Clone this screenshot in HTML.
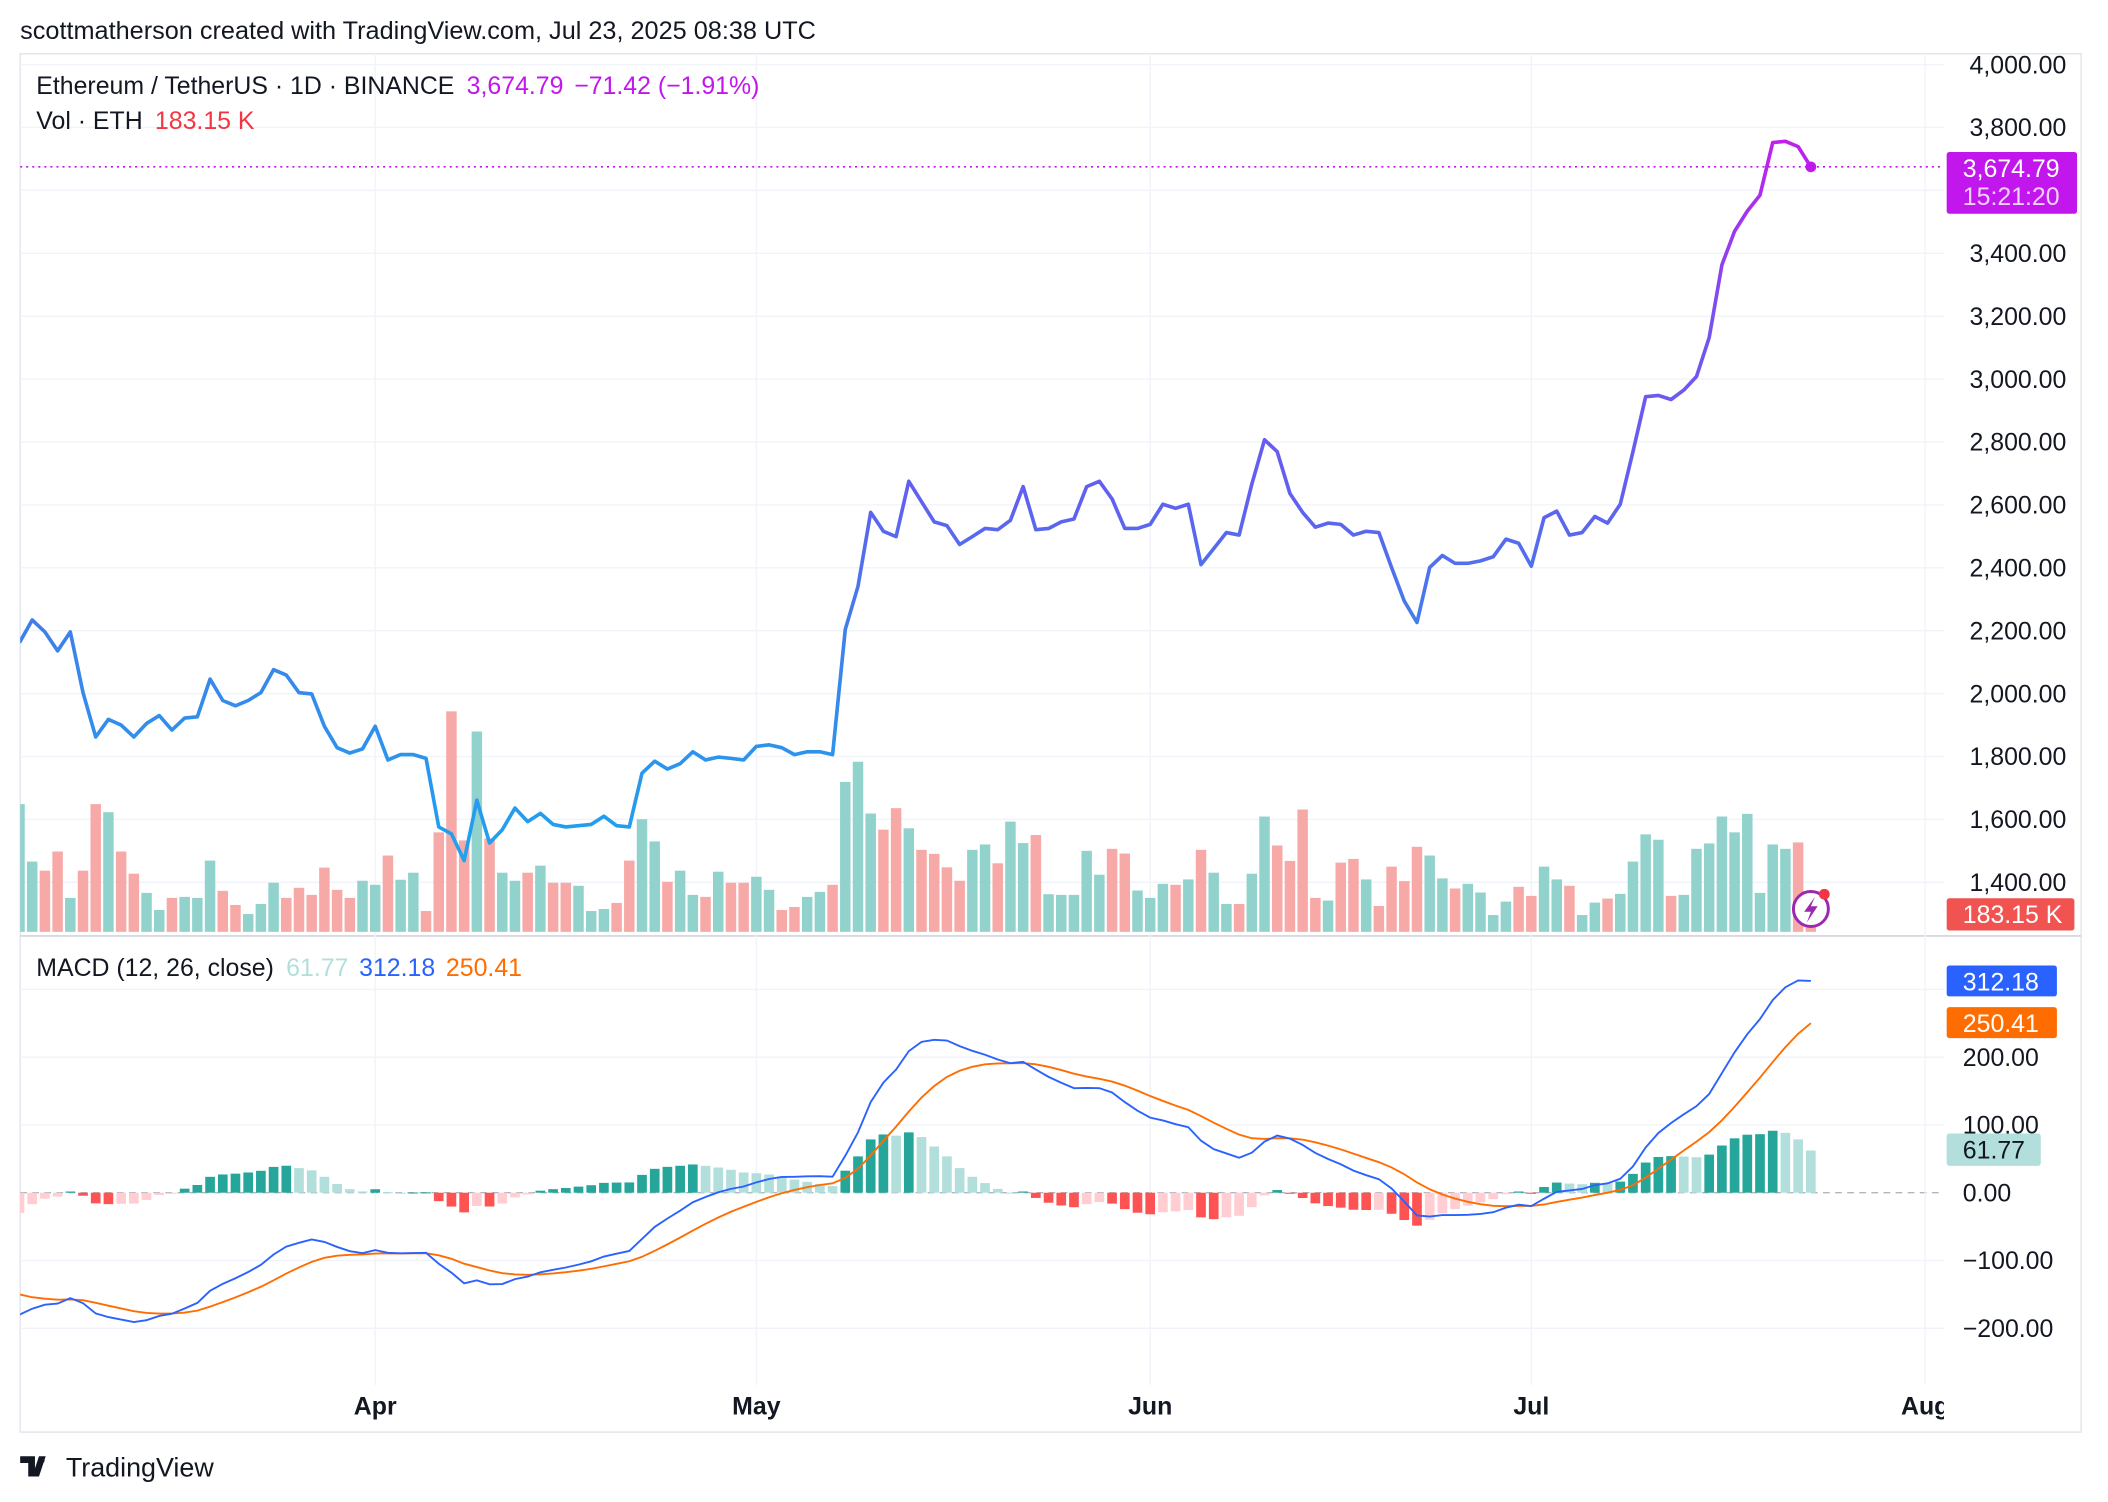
<!DOCTYPE html>
<html><head><meta charset="utf-8"><style>
html,body{margin:0;padding:0;background:#fff;}
svg{display:block;font-family:"Liberation Sans",sans-serif;}
</style></head><body>
<svg id="chart" xmlns="http://www.w3.org/2000/svg" width="2108" height="1502" viewBox="0 0 1568 1117" preserveAspectRatio="none">
<defs>
<linearGradient id="priceGrad" gradientUnits="userSpaceOnUse" x1="0" y1="640" x2="0" y2="100">
<stop offset="0" stop-color="#1ea3ef"/>
<stop offset="0.3" stop-color="#3d82ea"/>
<stop offset="0.5" stop-color="#6160f0"/>
<stop offset="0.72" stop-color="#7355f0"/>
<stop offset="1" stop-color="#c41ded"/>
</linearGradient>
<clipPath id="plotClip"><rect x="15" y="40" width="1431" height="990"/></clipPath>
<clipPath id="axisClip"><rect x="0" y="1030" width="1446" height="40"/></clipPath>
</defs>
<text x="15" y="29" font-size="18.8" fill="#131722">scottmatherson created with TradingView.com, Jul 23, 2025 08:38 UTC</text>
<rect x="15" y="40" width="1533" height="1025" fill="none" stroke="#e0e3eb" stroke-width="1"/>
<line x1="15" y1="696" x2="1548" y2="696" stroke="#d1d4dc" stroke-width="1.2"/>
<g id="grid"></g>
<g id="volume" clip-path="url(#plotClip)"></g>
<g id="price" clip-path="url(#plotClip)"></g>
<g id="macd" clip-path="url(#plotClip)"></g>
<g id="axes"></g>
<text x="27" y="70" font-size="18.5" fill="#131722">Ethereum / TetherUS · 1D · BINANCE <tspan fill="#c117ed" dx="4">3,674.79</tspan><tspan fill="#c117ed" dx="8">−71.42 (−1.91%)</tspan></text>
<text x="27" y="96" font-size="18.5" fill="#131722">Vol · ETH <tspan fill="#f23645" dx="4">183.15 K</tspan></text>
<text x="27" y="726" font-size="18.5" fill="#131722">MACD (12, 26, close) <tspan fill="#b2dfdb" dx="4">61.77</tspan><tspan fill="#2962ff" dx="8">312.18</tspan><tspan fill="#ff6d00" dx="8">250.41</tspan></text>
<g><circle cx="1347" cy="676" r="13" fill="#fff" stroke="#9c27b0" stroke-width="2.2"/><path d="M1350 667 L1342 678 L1347 678 L1344 686 L1352 674 L1347 674 Z" fill="#9c27b0"/><circle cx="1357" cy="665" r="4" fill="#f23645"/></g>
<g><path d="M15 1083 h11 v15 h-5 v-10 h-6 z M29 1083 h5 l-5 15 h-5 z" fill="#131722"/><circle cx="31" cy="1086" r="2.2" fill="#131722"/><text x="49" y="1098" font-size="20" fill="#131722">TradingView</text></g>
</svg>
<script>
const prices=[2162,2234,2196,2136,2196,2003,1862,1918,1900,1862,1905,1930,1884,1922,1926,2046,1978,1961,1978,2003,2076,2059,2003,1999,1896,1828,1811,1824,1896,1789,1806,1806,1794,1576,1554,1469,1661,1525,1567,1636,1593,1619,1584,1576,1580,1584,1610,1580,1576,1747,1785,1760,1777,1815,1789,1798,1794,1789,1832,1837,1828,1806,1815,1815,1806,2204,2341,2576,2516,2499,2675,2610,2546,2534,2474,2499,2525,2521,2551,2658,2521,2525,2546,2555,2658,2675,2619,2525,2525,2538,2602,2589,2602,2410,2461,2512,2504,2666,2807,2769,2636,2576,2529,2542,2538,2504,2516,2512,2401,2294,2226,2401,2439,2414,2414,2422,2435,2491,2478,2405,2559,2580,2504,2512,2563,2542,2602,2769,2944,2948,2935,2965,3008,3132,3363,3470,3534,3585,3752,3756,3739,3674.79];
const volumes=[380,209,182,239,101,182,380,356,239,173,116,65,101,104,101,212,122,80,53,83,146,101,131,110,191,125,101,152,140,227,155,176,62,296,656,272,596,278,176,152,176,197,146,146,137,62,68,86,212,335,269,149,182,110,104,179,146,146,164,125,65,74,104,119,140,446,506,352,304,368,308,244,232,192,152,244,260,204,328,264,288,112,110,110,241,170,247,233,123,101,143,140,156,244,176,83,83,173,343,257,211,364,101,93,206,217,156,77,194,151,253,227,159,129,143,117,50,90,134,107,194,156,137,50,87,99,113,209,290,274,107,110,247,263,343,296,351,116,260,247,266,20];
const priceTicks=[4000,3800,3600,3400,3200,3000,2800,2600,2400,2200,2000,1800,1600,1400];
const priceTickLabels=["4,000.00","3,800.00","3,600.00","3,400.00","3,200.00","3,000.00","2,800.00","2,600.00","2,400.00","2,200.00","2,000.00","1,800.00","1,600.00","1,400.00"];
const macdTicks=[300,200,100,0,-100,-200];
const macdTickLabels=["","200.00","100.00","0.00","−100.00","−200.00"];
const monthLabels=["Apr","May","Jun","Jul","Aug"];
const monthDays=[28,58,89,119,150];
const emaSeeds=[2290,2470,-150];

const NS="http://www.w3.org/2000/svg";
function mk(tag,attrs,parent,text){const e=document.createElementNS(NS,tag);for(const k in attrs)e.setAttribute(k,attrs[k]);if(text!==undefined)e.textContent=text;parent.appendChild(e);return e;}
const xS=i=>14.5+9.45*i;
const yP=v=>48+(4000-v)*0.2339;
const yV=v=>693-v*0.25;
const yM=v=>887-v*0.504;
const grid=document.getElementById('grid'),axes=document.getElementById('axes');
const FS=18.5;

priceTicks.forEach((t,k)=>{
  const l=mk('line',{x1:15,x2:1446,y1:yP(t),y2:yP(t),stroke:'#f0f3fa','stroke-width':1},grid);
  
  
  if(t===3600)return;
  const tx=mk('text',{x:1537,y:yP(t)+6.5,'font-size':FS,fill:'#131722','text-anchor':'end'},axes,priceTickLabels[k]);
  
  
});
macdTicks.forEach((t,k)=>{
  const l=mk('line',{x1:15,x2:1446,y1:yM(t),y2:yM(t),stroke:t===0?'#b2b5be':'#f0f3fa','stroke-width':1,'stroke-dasharray':t===0?'5,4':'none'},grid);
  
  
  if(!macdTickLabels[k])return;
  const tx=mk('text',{x:1460,y:yM(t)+6.5,'font-size':FS,fill:'#131722'},axes,macdTickLabels[k]);
  
  
});
const tg=mk('g',{'clip-path':'url(#axisClip)'},axes);


monthDays.forEach((d,k)=>{
  const x=xS(d);
  const l=mk('line',{x1:x,x2:x,y1:40,y2:1030,stroke:'#f0f3fa','stroke-width':1},grid);
  
  
  const tx=mk('text',{x:x,y:1052,'font-size':FS,'font-weight':'bold',fill:'#131722','text-anchor':'middle'},tg,monthLabels[k]);
  
  
});

const vg=document.getElementById('volume');
volumes.forEach((v,i)=>{
  const up=i===0||prices[i]>=prices[i-1];
  const r=mk('rect',{x:xS(i)-3.9,y:yV(v),width:7.8,height:693-yV(v),fill:up?'#92d2cc':'#f7a9a7'},vg);
  
  
});

const pg=document.getElementById('price');
const pl=mk('polyline',{points:prices.map((p,i)=>xS(i)+','+yP(p)).join(' '),fill:'none',stroke:'url(#priceGrad)','stroke-width':2.7,'stroke-linejoin':'round'},pg);


const last=prices.length-1;
const pd=mk('line',{x1:15,x2:1446,y1:yP(prices[last]),y2:yP(prices[last]),stroke:'#c117ed','stroke-width':1.2,'stroke-dasharray':'1.5,3'},pg);


const dot=mk('circle',{cx:xS(last),cy:yP(prices[last]),r:4,fill:'#c117ed'},pg);



const a12=2/13,a26=2/27,a9=2/10;
let e12=emaSeeds[0],e26=emaSeeds[1],sig=emaSeeds[2];
const macd=[],signal=[],hist=[];
prices.forEach((p,i)=>{
  if(i>0){e12=p*a12+e12*(1-a12);e26=p*a26+e26*(1-a26);}
  const m=e12-e26;
  if(i>0)sig=m*a9+sig*(1-a9);
  macd.push(m);signal.push(sig);hist.push(m-sig);
});
const mg=document.getElementById('macd');
hist.forEach((h,i)=>{
  const prev=i>0?hist[i-1]:h;
  let c;
  if(h>=0)c=h>=prev?'#26a69a':'#b2dfdb';else c=h<prev?'#ff5252':'#ffcdd2';
  const y0=yM(0),y1=yM(h);
  const r=mk('rect',{x:xS(i)-3.6,y:Math.min(y0,y1),width:7.2,height:Math.max(0.8,Math.abs(y1-y0)),fill:c},mg);
  
  
});
const sl=mk('polyline',{points:signal.map((v,i)=>xS(i)+','+yM(v)).join(' '),fill:'none',stroke:'#ff6d00','stroke-width':1.4},mg);


const ml=mk('polyline',{points:macd.map((v,i)=>xS(i)+','+yM(v)).join(' '),fill:'none',stroke:'#2962ff','stroke-width':1.4},mg);



function badge(name,y,h,w,bg,lines,fg){
  const g=mk('g',{},axes);
  
  
  mk('rect',{x:1448,y:y,width:w,height:h,rx:2,fill:bg},g);
  lines.forEach((t,k)=>mk('text',{x:1460,y:y+18.5+k*21,'font-size':FS,fill:k===0?fg:'rgba(255,255,255,0.8)'},g,t));
}
badge('last-price-badge',113,46,97,'#c117ed',['3,674.79','15:21:20'],'#fff');
badge('volume-badge',668,24,95,'#f05350',['183.15 K'],'#fff');
badge('macd-value-badge',718,23,82,'#2962ff',['312.18'],'#fff');
badge('signal-value-badge',749,23,82,'#ff6d00',['250.41'],'#fff');
badge('histogram-value-badge',843,24,70,'#b2dfdb',['61.77'],'#131722');
</script>
</body></html>
